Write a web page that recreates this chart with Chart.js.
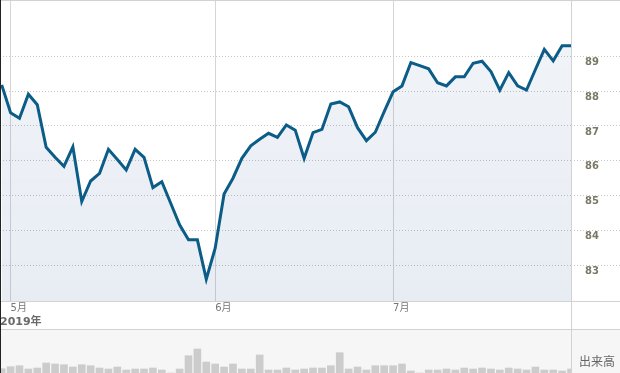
<!DOCTYPE html>
<html><head><meta charset="utf-8">
<script src="https://cdn.jsdelivr.net/npm/chart.js@4.4.1/dist/chart.umd.min.js"></script>
<style>
html,body{margin:0;padding:0;background:#fff;}
#wrap{position:relative;width:620px;height:373px;overflow:hidden;}
#price{position:absolute;left:0;top:0;}
#vol{position:absolute;left:0;top:329px;}
#volLabel{position:absolute;left:579px;top:355px;font:12px "Noto Sans CJK JP";color:#666;line-height:12px;white-space:nowrap;}
</style></head><body>
<div id="wrap">
<canvas id="price" width="620" height="329"></canvas>
<canvas id="vol" width="620" height="44"></canvas>
<div id="volLabel">出来高</div>
</div>
<script>
// ---- data ----
const prices = [88.18,87.38,87.22,87.91,87.61,86.39,86.10,85.84,86.40,84.83,
  85.42,85.64,86.33,86.04,85.74,86.33,86.10,85.23,85.40,84.78,
  84.16,83.73,83.73,82.60,83.49,85.05,85.50,86.07,86.43,86.62,
  86.79,86.67,87.03,86.88,86.07,86.81,86.90,87.63,87.69,87.55,
  86.95,86.58,86.82,87.41,87.98,88.15,88.82,88.73,88.64,88.24,
  88.15,88.41,88.41,88.80,88.86,88.56,88.03,88.53,88.15,88.03,
  88.62,89.20,88.87,89.30,89.30];
const volumes = [4300,6300,7300,4000,5000,10000,9000,8300,6000,8300,
  7300,5000,4000,6000,3000,4000,4000,5000,3000,0,
  4000,17300,24000,11000,9000,6000,9000,4000,4000,18000,
  3000,3000,5000,3000,4000,5000,5000,7300,20300,4000,
  6000,3000,7300,7300,7300,9000,2000,0,3000,3000,
  4000,3000,5000,4000,5000,4000,3000,5000,4000,3000,
  6000,3000,3000,2000,4000];
const monthTickIdx = [1, 24, 44];          // first trading day of each month
const monthLabels = ['5月', '6月', '7月'];
const yearLabel = '2019年';
const priceTicks = [83, 84, 85, 86, 87, 88, 89];
const volumeTitle = '出来高';

const FONT = "'DejaVu Sans', 'Noto Sans CJK JP', sans-serif";
const X_MIN = -0.19, X_MAX = 64;

const priceData = prices.map((v, i) => ({x: i, y: v}));
const volData = volumes.map((v, i) => ({x: i, y: v}));

const framePlugin = {
  id: 'frame',
  afterDraw(c) {
    const ctx = c.ctx, a = c.chartArea, W = c.width, H = c.height;
    ctx.save();
    ctx.lineWidth = 1;
    ctx.strokeStyle = '#d2d2d2';
    ctx.beginPath();
    ctx.moveTo(0, 0.5); ctx.lineTo(W, 0.5);
    ctx.moveTo(0, a.bottom + 0.5); ctx.lineTo(W, a.bottom + 0.5);
    ctx.moveTo(a.right + 0.5, 0); ctx.lineTo(a.right + 0.5, H);
    ctx.stroke();
    ctx.strokeStyle = '#222';
    ctx.beginPath(); ctx.moveTo(0.5, 0); ctx.lineTo(0.5, H); ctx.stroke();
    ctx.restore();
  }
};

new Chart(document.getElementById('price'), {
  type: 'line',
  data: {
    datasets: [{
      data: priceData,
      borderColor: '#0b5d87',
      borderWidth: 3,
      pointRadius: 0,
      tension: 0,
      fill: 'start',
      backgroundColor: (ctx) => {
        const a = ctx.chart.chartArea;
        if (!a) return 'rgba(25,75,145,0.09)';
        const g = ctx.chart.ctx.createLinearGradient(0, a.top, 0, a.bottom);
        g.addColorStop(0, 'rgba(25,75,145,0.06)');
        g.addColorStop(1, 'rgba(25,75,145,0.10)');
        return g;
      }
    }]
  },
  options: {
    responsive: false,
    animation: false,
    devicePixelRatio: 1,
    layout: {padding: 0},
    plugins: {legend: {display: false}, tooltip: {enabled: false}},
    scales: {
      x: {
        type: 'linear', min: X_MIN, max: X_MAX,
        afterBuildTicks: (s) => { s.ticks = monthTickIdx.map(v => ({value: v})); },
        ticks: {
          callback: (v) => monthLabels[monthTickIdx.indexOf(v)],
          align: 'start', padding: 1, maxRotation: 0, autoSkip: false,
          font: {family: FONT, size: 10}, color: '#777'
        },
        grid: {color: '#d6d6d6', drawTicks: false, lineWidth: 1},
        border: {display: false},
        title: {
          display: true, text: yearLabel, align: 'start',
          padding: {top: 0, bottom: 0},
          font: {family: FONT, size: 11, weight: 'bold'}, color: '#6a6a6a'
        },
        afterFit: (s) => { s.height = 28; }
      },
      y: {
        position: 'right',
        min: 81.975, max: 90.616,
        afterBuildTicks: (s) => { s.ticks = priceTicks.map(v => ({value: v})); },
        ticks: {
          padding: -35, labelOffset: 6,
          font: {family: FONT, size: 10, weight: 'bold'}, color: '#7a7865'
        },
        grid: {
          color: '#c6c6c6', drawTicks: true, tickLength: 49,
          tickColor: '#c6c6c6', tickBorderDash: [1, 2]
        },
        border: {display: false, dash: [1, 2]},
        afterFit: (s) => { s.width = 49; }
      }
    }
  },
  plugins: [framePlugin]
});

const volBg = {
  id: 'volBg',
  beforeDraw(c) {
    const ctx = c.ctx;
    ctx.save();
    ctx.fillStyle = '#f6f6f6';
    ctx.fillRect(0, 0, c.width, c.height);
    ctx.restore();
  },
  afterDraw(c) {
    const ctx = c.ctx, a = c.chartArea;
    ctx.save();
    ctx.lineWidth = 1;
    ctx.strokeStyle = '#d2d2d2';
    ctx.beginPath();
    ctx.moveTo(0, 0.5); ctx.lineTo(c.width, 0.5);
    ctx.moveTo(a.right + 0.5, 0); ctx.lineTo(a.right + 0.5, c.height);
    ctx.stroke();
    ctx.strokeStyle = '#222';
    ctx.beginPath(); ctx.moveTo(0.5, 0); ctx.lineTo(0.5, c.height); ctx.stroke();
    ctx.restore();
  }
};

new Chart(document.getElementById('vol'), {
  type: 'bar',
  data: {
    datasets: [{
      label: volumeTitle,
      data: volData,
      backgroundColor: '#cccccc',
      borderWidth: 0,
      barThickness: 7
    }]
  },
  options: {
    responsive: false,
    animation: false,
    devicePixelRatio: 1,
    layout: {padding: {top: 1, left: 0, right: 0, bottom: 0}},
    plugins: {legend: {display: false}, tooltip: {enabled: false}},
    scales: {
      x: {type: 'linear', min: X_MIN, max: X_MAX, offset: false, display: false,
          grid: {offset: false}},
      y: {
        position: 'right', min: 0, max: 43000,
        ticks: {display: false},
        grid: {display: false},
        border: {display: false},
        afterFit: (s) => { s.width = 49; }
      }
    }
  },
  plugins: [volBg]
});
</script>
</body></html>
